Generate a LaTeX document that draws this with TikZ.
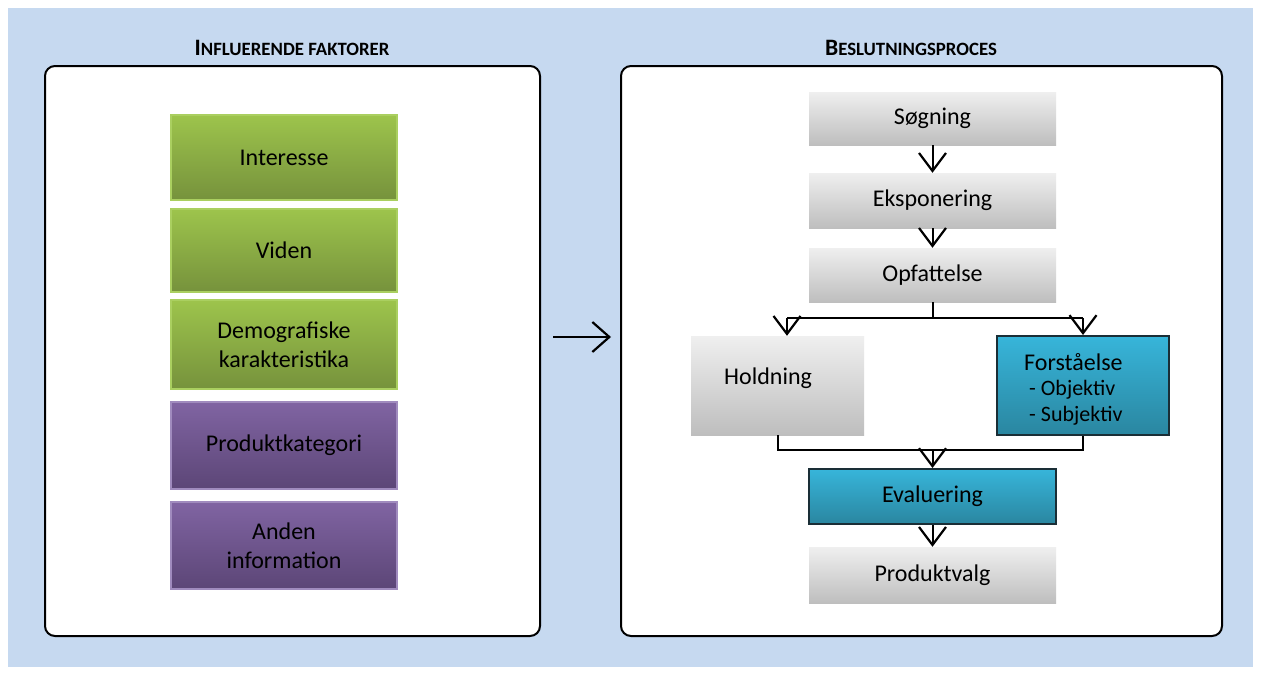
\documentclass[tikz,border=0pt]{standalone}
\usepackage{fontspec}
\setmainfont{Carlito}
\usetikzlibrary{arrows.meta}
\definecolor{bgblue}{HTML}{C6D9F0}
\definecolor{gtop}{HTML}{9DC44C}
\definecolor{gbot}{HTML}{76923C}
\definecolor{gline}{HTML}{AACF60}
\definecolor{ptop}{HTML}{8064A2}
\definecolor{pbot}{HTML}{5C4677}
\definecolor{pline}{HTML}{A08BBE}
\definecolor{grtop}{HTML}{EFEFEF}
\definecolor{grbot}{HTML}{BEBEBE}
\definecolor{btop}{HTML}{37B5DA}
\definecolor{bbot}{HTML}{2A86A0}
\definecolor{bline}{HTML}{1A2E36}
\newcommand{\bodyfont}{\fontsize{24}{28.5}\selectfont}
\newcommand{\smallbody}{\fontsize{22}{26}\selectfont}
\newcommand{\bigsc}{\fontsize{23.5}{26}\selectfont}
\newcommand{\smallsc}{\fontsize{18.8}{26}\selectfont}
\tikzset{
  panel/.style={draw=black, line width=2pt, fill=white, rounded corners=10pt},
  gbox/.style={draw=gline, line width=1.5pt, top color=gtop, bottom color=gbot, minimum width=226pt, inner sep=0pt, align=center, font=\bodyfont},
  pbox/.style={draw=pline, line width=1.5pt, top color=ptop, bottom color=pbot, minimum width=226pt, minimum height=87pt, inner sep=0pt, align=center, font=\bodyfont},
  grbox/.style={top color=grtop, bottom color=grbot, minimum width=247pt, inner sep=0pt, align=center, font=\bodyfont},
  bbox/.style={draw=bline, line width=2pt, top color=btop, bottom color=bbot, inner sep=0pt, align=center, font=\bodyfont},
  conn/.style={draw=black, line width=2pt},
  arr/.style={conn, -{Straight Barb[length=18pt,width=27pt,line width=2.2pt]}},
  bigarr/.style={conn, -{Straight Barb[length=17pt,width=30pt,line width=2.2pt]}},
  title/.style={font=\bfseries, anchor=base}
}
\begin{document}
\begin{tikzpicture}[x=1pt,y=-1pt]
\useasboundingbox (0,0) rectangle (1261,675);
\fill[white] (0,0) rectangle (1261,675);
\fill[bgblue] (8,8) rectangle (1253,667);

% panels
\draw[panel] (45,66) rectangle (540,636);
\draw[panel] (621,66) rectangle (1222,636);

% titles
\node[title] (t1) at (292,55) {\bigsc I\smallsc NFLUERENDE FAKTORER};
\node[title] (t2) at (911,55) {\bigsc B\smallsc ESLUTNINGSPROCES};

% left boxes
\node[gbox, minimum height=85pt] (interesse) at (284,157.5) {Interesse};
\node[gbox, minimum height=83pt] (viden) at (284,250.5) {Viden};
\node[gbox, minimum height=89pt] (demo) at (284,344.5) {Demografiske\\karakteristika};
\node[pbox] (prod) at (284,445.5) {Produktkategori};
\node[pbox] (anden) at (284,545.5) {Anden\\information};

% middle arrow
\coordinate (ma) at (553,337);
\coordinate (mb) at (611,337);
\draw[bigarr] (ma) -- (mb);

% right boxes
\node[grbox, minimum height=53pt] (sog) at (932.5,118.5) {Søgning};
\node[grbox, minimum height=55pt] (eks) at (932.5,200.5) {Eksponering};
\node[grbox, minimum height=54pt] (opf) at (932.5,275) {Opfattelse};
\node[grbox, minimum width=173pt, minimum height=99pt] (hold) at (777.5,385.5) {};
\node[font=\bodyfont, anchor=west, inner sep=0pt] (holdt) at (724,378) {Holdning};
\node[bbox, minimum width=172pt, minimum height=99pt] (forst) at (1083,385.5) {};
\begin{scope}
\clip (998,337) rectangle (1168,434);
\node[font=\bodyfont, anchor=west, inner sep=0pt] (ft1) at (1024,362) {Forståelse};
\node[font=\smallbody, anchor=west, inner sep=0pt] (ft2) at (1029,390) {- Objektiv};
\node[font=\smallbody, anchor=west, inner sep=0pt] (ft3) at (1029,416) {- Subjektiv};
\end{scope}
\node[bbox, minimum width=247pt, minimum height=55pt] (eval) at (932.5,496.5) {Evaluering};
\node[grbox, minimum height=56pt] (pv) at (932.5,575) {Produktvalg};

% connectors
\draw[arr] (sog) -- (eks);
\draw[arr] (eks) -- (opf);
\coordinate (s0) at (opf.south |- 0,318);
\coordinate (sl) at (787,318);
\coordinate (sr) at (forst.north |- 0,318);
\draw[conn] (opf.south) -- (s0);
\draw[conn] (sl) -- (sr);
\draw[arr] (sl) -- (sl |- hold.north);
\draw[arr] (sr) -- (forst.north);
\coordinate (jl) at (hold.south |- 0,450);
\coordinate (jr) at (forst.south |- 0,450);
\coordinate (jm) at (eval.north |- 0,450);
\draw[conn] (hold.south) -- (jl) -- (jr) -- (forst.south);
\draw[arr] (jm) -- (eval.north);
\draw[arr] (eval) -- (pv);
\end{tikzpicture}
\end{document}
